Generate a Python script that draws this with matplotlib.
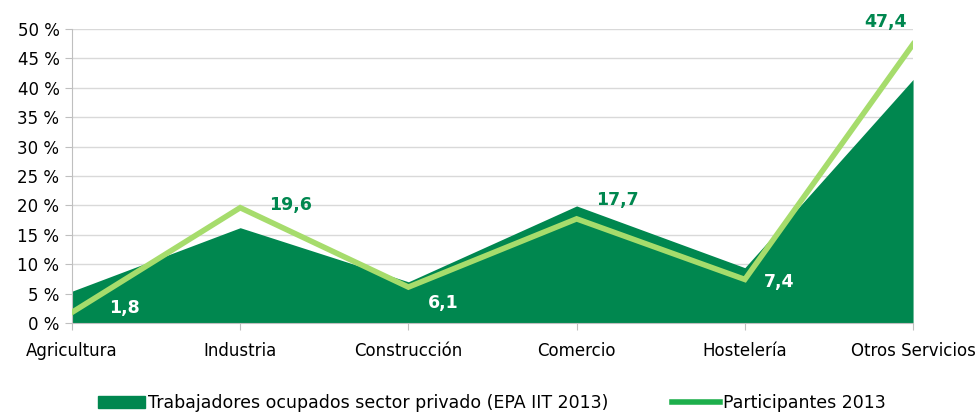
import matplotlib
matplotlib.use("Agg")
import matplotlib.pyplot as plt
from matplotlib.patches import Patch
from matplotlib.lines import Line2D

categories = ["Agricultura", "Industria", "Construcción", "Comercio", "Hostelería", "Otros Servicios"]
trabajadores = [5.4, 16.2, 7.0, 19.9, 9.4, 41.4]
participantes = [1.8, 19.6, 6.1, 17.7, 7.4, 47.4]
yticks = [0, 5, 10, 15, 20, 25, 30, 35, 40, 45, 50]
label_offsets = [(38, 3.5), (36, 2), (25, -11.5), (29, 13.5), (25, -2), (-20, 16)]
label_colors = ["white", "#00874F", "white", "#00874F", "white", "#00874F"]

plt.rcParams['font.family'] = ['DejaVu Sans']
fig = plt.figure(figsize=(9.78, 4.13), dpi=100)
ax = fig.add_axes([0.0736, 0.218, 0.86, 0.712])

x = list(range(len(categories)))
dark = "#00874F"
light = "#A6DC6C"
ax.fill_between(x, trabajadores, 0, color=dark, lw=0, zorder=2)
ax.plot(x, participantes, color=light, lw=4, zorder=3, solid_joinstyle='miter')

for i, v in enumerate(participantes):
    dx, dy = label_offsets[i]
    ax.annotate(f"{v:.1f}".replace(".", ","), (i, v), xytext=(dx, dy), textcoords="offset points",
                ha="center", va="center", fontsize=12.5, fontweight="bold", color=label_colors[i], zorder=4)

ax.set_xlim(0, len(categories) - 1)
ax.set_ylim(0, 50)
ax.set_yticks(yticks)
ax.set_yticklabels([f"{t} %" for t in yticks], fontsize=12)
ax.set_xticks(x)
ax.set_xticklabels(categories, fontsize=12)
ax.yaxis.grid(True, color="#D9D9D9", lw=1, zorder=0)
ax.set_axisbelow(True)
for s in ["top", "right"]:
    ax.spines[s].set_visible(False)
for s in ["left", "bottom"]:
    ax.spines[s].set_color("#BFBFBF")
ax.tick_params(axis="y", length=5, color="#BFBFBF", pad=4)
ax.tick_params(axis="x", length=5, color="#BFBFBF", pad=9)

handles = [Patch(color=dark, label="Trabajadores ocupados sector privado (EPA IIT 2013)"),
           Line2D([0], [0], color="#1DAF4C", lw=4, label="Participantes 2013")]
fig.legend(handles=handles, loc="lower center", bbox_to_anchor=(0.5026, -0.036), ncol=2, frameon=False,
           fontsize=12.5, handlelength=2.75, handletextpad=0.15, columnspacing=3.7)

fig.savefig("out.png", dpi=100)
